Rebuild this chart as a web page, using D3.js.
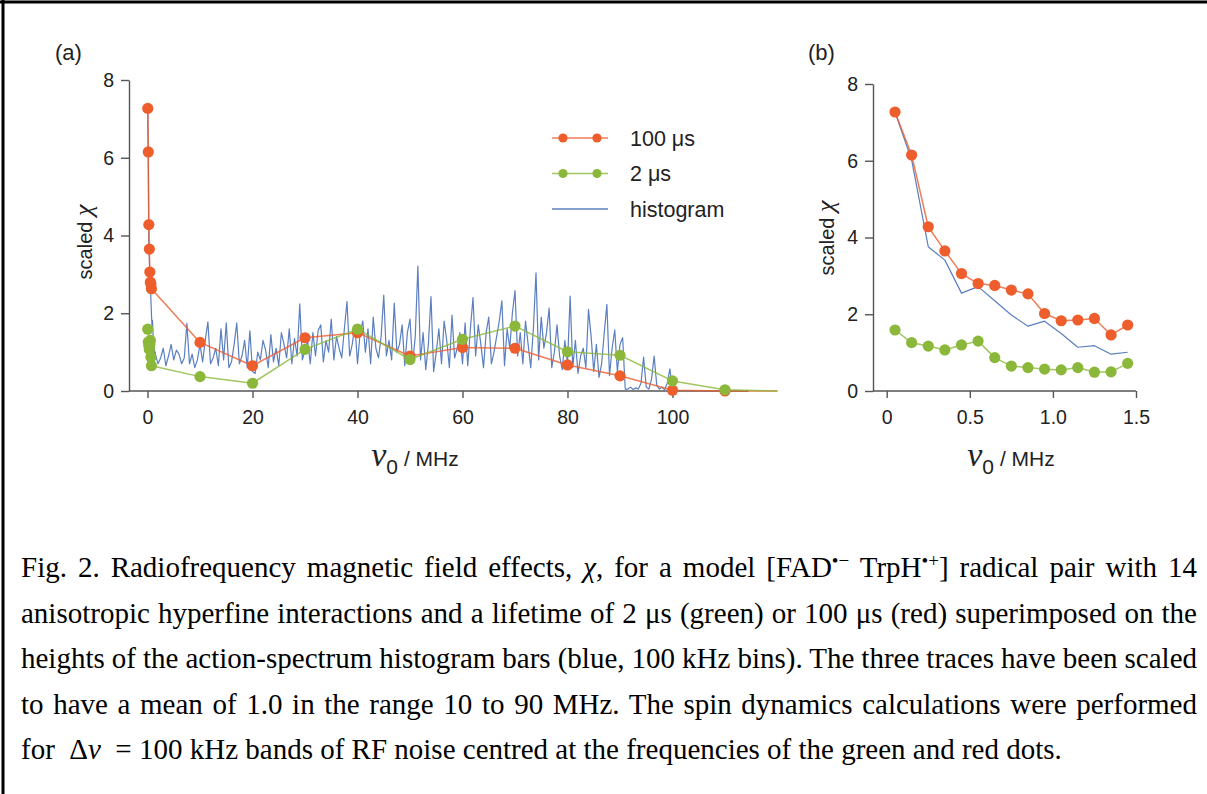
<!DOCTYPE html>
<html>
<head>
<meta charset="utf-8">
<script src="https://cdn.jsdelivr.net/npm/d3@7"></script>
<style>
  body { margin: 0; background: #fff; }
  svg { display: block; }
  text { font-family: "Liberation Sans", Arial, sans-serif; fill: #222; }
  .cap text { font-family: "Liberation Serif", "Times New Roman", serif; fill: #000; }
</style>
</head>
<body>
<svg width="1207" height="794"></svg>
<script>
// ---- data ----
// low-frequency points, panel (b); panel (a) shows the first 8 of them
const lowFreq   = [0.05, 0.15, 0.25, 0.35, 0.45, 0.55, 0.65, 0.75, 0.85, 0.95, 1.05, 1.15, 1.25, 1.35, 1.45];
const red100Low = [7.27, 6.15, 4.28, 3.65, 3.06, 2.80, 2.75, 2.63, 2.53, 2.02, 1.83, 1.85, 1.89, 1.46, 1.72];
const green2Low = [1.59, 1.26, 1.17, 1.07, 1.20, 1.30, 0.87, 0.65, 0.61, 0.57, 0.55, 0.61, 0.49, 0.50, 0.72];
const histLow   = [7.27, 6.02, 3.76, 3.41, 2.55, 2.72, 2.35, 1.98, 1.69, 1.82, 1.50, 1.14, 1.18, 0.96, 1.01];
const lowCountA = 8;

// coarse points, panel (a)
const coarseFreq   = [10, 20, 30, 40, 50, 60, 70, 80, 90, 100, 110, 120];
const red100Coarse = [1.25, 0.65, 1.37, 1.50, 0.90, 1.12, 1.10, 0.67, 0.39, 0.02, 0.0, 0.0];
const green2Coarse = [0.37, 0.20, 1.07, 1.59, 0.81, 1.33, 1.67, 1.01, 0.92, 0.26, 0.03, 0.0];

// histogram heights, panel (a): bins from 1.5 MHz every 0.5 MHz
const histStart = 1.5, histStep = 0.5;
const histVals = [
  0.95, 0.70, 0.85, 1.10, 0.65, 0.90, 1.20, 0.80, 1.05, 0.95, 0.70, 0.85, 1.74, 0.70, 0.95, 0.60, 0.80, 1.20, 0.75, 1.30,
  1.78, 0.70, 0.85, 1.10, 0.65, 1.60, 0.80, 1.75, 0.60, 0.75, 1.20, 1.75, 0.70, 0.90, 1.30, 0.60, 1.55, 0.50, 0.45, 1.00,
  0.80, 1.30, 1.05, 0.60, 1.45, 0.75, 1.10, 0.65, 1.50, 1.20, 0.85, 1.60, 0.70, 1.35, 0.90, 2.24, 0.80, 1.05, 1.30, 0.70,
  1.50, 0.90, 1.55, 1.70, 0.75, 1.30, 1.00, 1.85, 0.80, 1.40, 1.10, 0.85, 1.60, 2.30, 0.90, 1.20, 1.70, 0.70, 1.50, 1.80,
  1.00, 1.60, 0.70, 1.90, 1.10, 0.85, 1.40, 2.47, 0.90, 1.30, 0.80, 2.26, 1.00, 1.20, 1.70, 0.65, 1.50, 1.85, 0.70, 1.40,
  3.21, 0.80, 1.50, 0.55, 1.20, 2.43, 0.50, 1.00, 1.60, 0.70, 1.80, 1.30, 0.60, 1.95, 0.85, 1.10, 1.50, 0.70, 1.75, 0.65,
  1.60, 2.40, 0.90, 1.70, 1.20, 0.60, 1.50, 1.90, 0.70, 1.00, 1.40, 1.80, 2.32, 0.65, 1.60, 1.10, 2.00, 2.58, 0.90, 1.50,
  0.70, 1.80, 1.20, 0.60, 1.60, 3.04, 0.80, 1.90, 1.10, 1.50, 2.13, 0.60, 1.00, 1.70, 0.90, 0.55, 1.30, 0.70, 2.44, 0.60,
  1.30, 0.45, 0.90, 1.10, 0.60, 2.10, 1.40, 0.50, 1.20, 0.35, 0.70, 1.50, 2.23, 0.40, 1.10, 1.57, 0.50, 1.20, 1.37, 0.05,
  0.05, 0.10, 0.04, 0.08, 0.05, 0.20, 0.87, 0.10, 0.05, 0.30, 0.90, 0.15, 0.05, 0.10, 0.03, 0.20, 0.57, 0.02, 0.00, 0.00
];

const yTicks  = [0, 2, 4, 6, 8];
const xTicksA = [0, 20, 40, 60, 80, 100];
const xTicksB = [0, 0.5, 1.0, 1.5];
const xTickLabelsB = ['0', '0.5', '1.0', '1.5'];

const legendItems = [
  { label: '100 \u03bcs', color: 'red', dots: true },
  { label: '2 \u03bcs', color: 'green', dots: true },
  { label: 'histogram', color: 'blue', dots: false }
];

const captionLines = [
  'Fig. 2. Radiofrequency magnetic field effects, |χ|, for a model [FAD^•−^ TrpH^•+^] radical pair with 14',
  'anisotropic hyperfine interactions and a lifetime of 2 μs (green) or 100 μs (red) superimposed on the',
  'heights of the action-spectrum histogram bars (blue, 100 kHz bins). The three traces have been scaled',
  'to have a mean of 1.0 in the range 10 to 90 MHz. The spin dynamics calculations were performed',
  'for  Δ|ν|  = 100 kHz bands of RF noise centred at the frequencies of the green and red dots.'
];

// ---- colours / style ----
const COL = { red: '#ee5d2c', green: '#8bb83a', blue: '#5b7fc1' };
const AXIS = '#555';

const svg = d3.select('svg');

// frame (top + left edges only, image is cropped)
svg.append('line').attr('x1', 0).attr('x2', 1207).attr('y1', 2).attr('y2', 2)
  .attr('stroke', '#000').attr('stroke-width', 3);
svg.append('line').attr('x1', 3).attr('x2', 3).attr('y1', 0).attr('y2', 794)
  .attr('stroke', '#000').attr('stroke-width', 3);

const zip = (xs, ys) => xs.map((v, i) => [v, ys[i]]);
const histHigh = histVals.map((v, i) => [histStart + i * histStep, v]);

function drawPanel(o) {
  const x = d3.scaleLinear().domain(o.xDomain).range(o.xRange);
  const y = d3.scaleLinear().domain([0, 8]).range(o.yRange);
  const g = svg.append('g');

  // y axis
  const ya = g.append('g')
    .attr('transform', `translate(${o.yAxisX},0)`)
    .call(d3.axisLeft(y).tickValues(yTicks).tickSize(8).tickSizeOuter(0).tickPadding(7));
  // x axis
  const xa = g.append('g')
    .attr('transform', `translate(0,${y(0)})`)
    .call(d3.axisBottom(x).tickValues(o.xTicks).tickFormat(o.fmt).tickSize(7).tickSizeOuter(0).tickPadding(12));
  xa.select('.domain').remove();
  g.append('line')
    .attr('x1', o.yAxisX).attr('x2', x(o.xAxisEnd))
    .attr('y1', y(0)).attr('y2', y(0))
    .attr('stroke', AXIS).attr('stroke-width', 1.4);

  [ya, xa].forEach(a => {
    a.selectAll('path, line').attr('stroke', AXIS).attr('stroke-width', 1.4);
    a.selectAll('text').attr('font-size', 19.5).attr('fill', '#1a1a1a')
      .attr('font-family', '"Liberation Sans", Arial, sans-serif');
  });

  const line = d3.line().x(d => x(d[0])).y(d => y(d[1]));

  o.series.forEach(s => {
    g.append('path').datum(s.pts)
      .attr('d', line)
      .attr('fill', 'none')
      .attr('stroke', COL[s.color])
      .attr('stroke-opacity', s.dots ? 0.8 : 1)
      .attr('stroke-width', s.dots ? 1.5 : 1.2)
      .attr('stroke-linejoin', 'round');
    if (s.dots) {
      g.append('g').selectAll('circle')
        .data(s.pts.filter(d => d[0] <= o.dotMax))
        .join('circle')
          .attr('cx', d => x(d[0]))
          .attr('cy', d => y(d[1]))
          .attr('r', 5.6)
          .attr('fill', COL[s.color]);
    }
  });

  // panel label
  g.append('text').attr('x', o.labelX).attr('y', 60)
    .attr('font-size', 22).text(o.label);

  // y title: scaled χ
  const yt = g.append('text')
    .attr('transform', `translate(${o.yTitleX},${o.yTitleY}) rotate(-90)`)
    .attr('text-anchor', 'middle');
  yt.append('tspan').attr('font-size', 20).text('scaled ');
  yt.append('tspan').attr('font-size', 26).attr('font-style', 'italic')
    .attr('font-family', '"Liberation Serif", serif').text('\u03c7');

  // x title: ν0 / MHz
  const xt = g.append('text')
    .attr('x', o.xTitleX).attr('y', 466)
    .attr('text-anchor', 'middle');
  xt.append('tspan').attr('font-size', 34).attr('font-style', 'italic')
    .attr('font-family', '"Liberation Serif", serif').text('\u03bd');
  xt.append('tspan').attr('font-size', 21).attr('dy', 8).text('0');
  xt.append('tspan').attr('font-size', 21).attr('dy', -8).text(' / MHz');

  return { g, x, y };
}

// panel (a)
drawPanel({
  xDomain: [0, 100], xRange: [147.5, 672.5], yRange: [391, 80],
  yAxisX: 129, xAxisEnd: 114.5, dotMax: 115,
  xTicks: xTicksA, fmt: d3.format('d'),
  label: '(a)', labelX: 55,
  yTitleX: 92, yTitleY: 242, xTitleX: 415,
  series: [
    { color: 'blue', dots: false, pts: zip(lowFreq, histLow).concat(histHigh) },
    { color: 'red', dots: true,
      pts: zip(lowFreq, red100Low).slice(0, lowCountA).concat(zip(coarseFreq, red100Coarse)) },
    { color: 'green', dots: true,
      pts: zip(lowFreq, green2Low).slice(0, lowCountA).concat(zip(coarseFreq, green2Coarse)) }
  ]
});

// panel (b)
drawPanel({
  xDomain: [0, 1.5], xRange: [886.7, 1136], yRange: [391, 84],
  yAxisX: 873, xAxisEnd: 1.5, dotMax: 2,
  xTicks: xTicksB, fmt: (d, i) => xTickLabelsB[i],
  label: '(b)', labelX: 808,
  yTitleX: 834, yTitleY: 238, xTitleX: 1011,
  series: [
    { color: 'blue', dots: false, pts: zip(lowFreq, histLow) },
    { color: 'red', dots: true, pts: zip(lowFreq, red100Low) },
    { color: 'green', dots: true, pts: zip(lowFreq, green2Low) }
  ]
});

// legend
const leg = svg.append('g').attr('transform', 'translate(552,138)');
legendItems.forEach((it, i) => {
  const row = leg.append('g').attr('transform', `translate(0,${i * 35.5})`);
  row.append('line').attr('x1', 0).attr('x2', 56)
    .attr('stroke', COL[it.color]).attr('stroke-width', 1.5)
    .attr('stroke-opacity', it.dots ? 0.8 : 1);
  if (it.dots) {
    row.selectAll('circle').data([11, 45]).join('circle')
      .attr('cx', d => d).attr('r', 4.6).attr('fill', COL[it.color]);
  }
  row.append('text').attr('x', 78).attr('dy', '0.35em')
    .attr('font-size', 21.5).attr('fill', COL[it.color]).text(it.label);
});

// caption: |..| = italic, ^..^ = superscript; lines 1-4 justified
const cap = svg.append('g').attr('class', 'cap');
const capLeft = 21, capRight = 1197, capTop = 577, capGap = 45.5;
captionLines.forEach((ln, i) => {
  const t = cap.append('text').attr('x', capLeft).attr('y', capTop + i * capGap)
    .attr('font-size', 29).attr('xml:space', 'preserve');
  const parts = ln.split(/(\|[^|]*\||\^[^^]*\^)/).filter(p => p.length);
  let raised = false;
  parts.forEach(p => {
    if (p[0] === '|') {
      t.append('tspan').attr('font-style', 'italic').attr('dy', raised ? 10 : null).text(p.slice(1, -1));
      raised = false;
    } else if (p[0] === '^') {
      t.append('tspan').attr('font-size', 19).attr('dy', -10).text(p.slice(1, -1));
      raised = true;
    } else {
      t.append('tspan').attr('dy', raised ? 10 : null).text(p);
      raised = false;
    }
  });
  if (i < captionLines.length - 1) {
    const w = t.node().getComputedTextLength();
    const spaces = (t.text().match(/ /g) || []).length;
    t.attr('word-spacing', (capRight - capLeft - w) / spaces);
  }
});
</script>
</body>
</html>
